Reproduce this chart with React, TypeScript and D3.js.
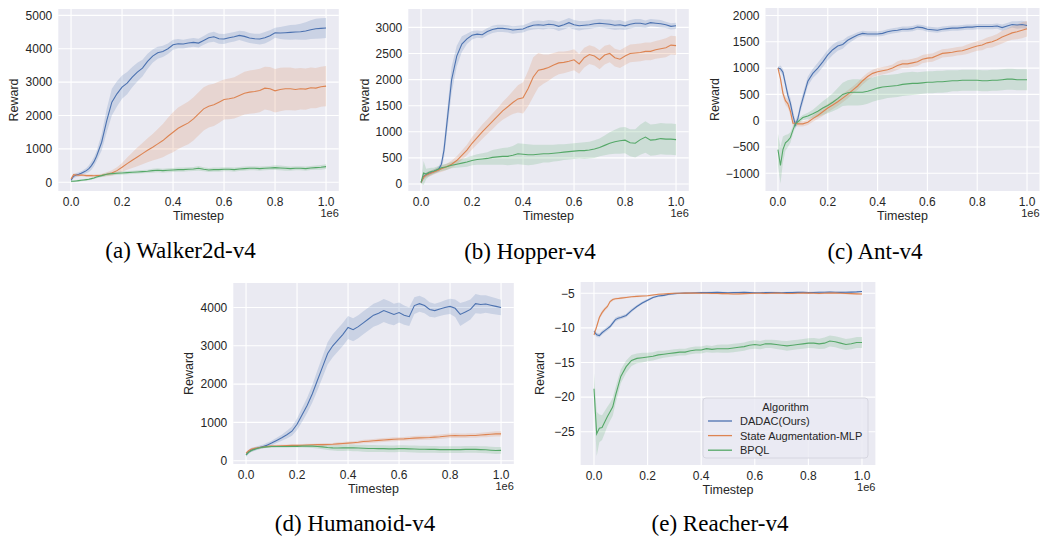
import * as d3 from "d3";

// timesteps (x 1e6): 0..0.1 by 0.01, then 0.12..1.0 by 0.02
const timesteps = [
  0, 0.01, 0.02, 0.03, 0.04, 0.05, 0.06, 0.07, 0.08, 0.09, 0.1,
  0.12, 0.14, 0.16, 0.18, 0.2,
  0.22, 0.24, 0.26, 0.28, 0.3,
  0.32, 0.34, 0.36, 0.38, 0.4,
  0.42, 0.44, 0.46, 0.48, 0.5,
  0.52, 0.54, 0.56, 0.58, 0.6,
  0.62, 0.64, 0.66, 0.68, 0.7,
  0.72, 0.74, 0.76, 0.78, 0.8,
  0.82, 0.84, 0.86, 0.88, 0.9,
  0.92, 0.94, 0.96, 0.98, 1.0,
];

const algorithms = ["DADAC(Ours)", "State Augmentation-MLP", "BPQL"];
const colors = ["#4c72b0", "#dd8452", "#55a868"];

// ---- Walker2d-v4 ----
const walkerDadac = [
  60, 180, 220, 240, 270, 310, 350, 410, 500, 620, 780,
  1200, 1850, 2400, 2650, 2850,
  2970, 3150, 3300, 3420, 3620,
  3780, 3880, 3920, 4000, 4120,
  4150, 4140, 4170, 4190, 4170,
  4250, 4330, 4360, 4300, 4290,
  4330, 4360, 4400, 4370, 4320,
  4300, 4290, 4330, 4390, 4480,
  4470, 4480, 4490, 4500, 4510,
  4530, 4570, 4600, 4610, 4620,
];
const walkerDadacBand = [
  30, 60, 60, 60, 60, 70, 80, 100, 120, 140, 150,
  250, 350, 400, 380, 350,
  330, 300, 280, 250, 230,
  200, 180, 170, 160, 150,
  140, 130, 130, 130, 130,
  130, 140, 150, 150, 150,
  140, 140, 140, 150, 150,
  150, 160, 170, 160, 150,
  180, 200, 220, 220, 240,
  260, 280, 300, 300, 300,
];
const walkerSaMlp = [
  100, 230, 220, 210, 220, 210, 200, 200, 200, 195, 200,
  210, 240, 280, 350, 450,
  560, 660, 760, 860, 960,
  1050, 1150, 1250, 1380, 1500,
  1620, 1700, 1780, 1900, 2050,
  2200, 2280, 2320, 2400, 2480,
  2500, 2530, 2600, 2670, 2700,
  2720, 2750, 2820, 2800, 2740,
  2780, 2800, 2800, 2780, 2800,
  2790, 2830, 2820, 2860, 2880,
];
const walkerSaMlpBand = [
  30, 40, 40, 40, 40, 40, 40, 40, 40, 40, 40,
  50, 60, 80, 100, 130,
  180, 230, 280, 320, 360,
  400, 450, 500, 550, 600,
  620, 630, 640, 650, 650,
  650, 640, 630, 620, 600,
  610, 620, 630, 640, 650,
  650, 650, 640, 650, 650,
  650, 640, 640, 630, 620,
  620, 610, 600, 600, 600,
];
const walkerBpql = [
  30, 30, 40, 50, 60, 70, 80, 90, 110, 130, 160,
  200, 240, 260, 270, 280,
  290, 300, 310, 320, 330,
  350, 360, 350, 360, 370,
  380, 380, 390, 400, 420,
  390, 370, 380, 380, 390,
  390, 380, 400, 410, 420,
  420, 410, 420, 430, 440,
  430, 420, 410, 420, 420,
  410, 430, 440, 450, 470,
];
const walkerBpqlBand = [
  30, 30, 30, 30, 30, 30, 30, 30, 30, 30, 40,
  40, 50, 50, 50, 50,
  50, 50, 50, 50, 50,
  60, 60, 60, 60, 60,
  60, 60, 60, 60, 70,
  60, 60, 60, 60, 60,
  60, 60, 60, 60, 60,
  60, 60, 60, 60, 70,
  70, 70, 60, 60, 60,
  60, 60, 60, 70, 70,
];

// ---- Hopper-v4 ----
const hopperDadac = [
  30, 140, 180, 200, 220, 240, 260, 290, 380, 650, 1100,
  2000, 2450, 2680, 2780, 2850,
  2870, 2860, 2920, 2960, 2980,
  2980, 2970, 2950, 2960, 2970,
  3010, 3040, 3050, 3040, 3060,
  3050, 3020, 3050, 3090, 3050,
  3030, 3040, 3050, 3070, 3080,
  3070, 3060, 3040, 3050, 3030,
  3060, 3080, 3080, 3060, 3090,
  3080, 3070, 3050, 3020, 3030,
];
const hopperDadacBand = [
  20, 40, 40, 40, 40, 40, 40, 50, 80, 150, 200,
  250, 200, 150, 100, 80,
  70, 70, 70, 70, 70,
  70, 70, 70, 70, 70,
  70, 80, 80, 80, 80,
  80, 90, 90, 90, 90,
  90, 80, 80, 80, 80,
  80, 90, 90, 90, 80,
  80, 80, 80, 70, 70,
  70, 70, 60, 60, 60,
];
const hopperSaMlp = [
  30, 130, 170, 190, 210, 230, 250, 270, 290, 310, 330,
  380, 450, 550, 650, 780,
  890, 1000, 1100, 1200, 1300,
  1400, 1480, 1560, 1630, 1650,
  1830, 2050, 2180, 2200, 2230,
  2280, 2320, 2330, 2350, 2380,
  2300, 2420, 2480, 2450, 2380,
  2470, 2500, 2420, 2390, 2450,
  2500, 2510, 2520, 2540, 2540,
  2570, 2590, 2610, 2660, 2650,
];
const hopperSaMlpBand = [
  20, 50, 50, 50, 50, 50, 50, 50, 60, 60, 60,
  70, 80, 90, 100, 120,
  130, 140, 140, 150, 150,
  170, 190, 220, 260, 300,
  340, 380, 330, 280, 250,
  230, 220, 210, 200, 200,
  190, 190, 180, 180, 180,
  180, 170, 170, 170, 170,
  170, 170, 170, 170, 170,
  170, 175, 180, 180, 180,
];
const hopperBpql = [
  30, 210, 190, 220, 240, 250, 270, 290, 310, 320, 330,
  360, 380, 400, 420, 450,
  470, 480, 490, 510, 520,
  530, 530, 550, 580, 570,
  560, 560, 570, 580, 580,
  590, 600, 610, 620, 630,
  640, 640, 650, 670, 700,
  740, 780, 810, 830, 840,
  790, 780, 850, 900, 840,
  850, 870, 860, 860, 850,
];
const hopperBpqlBand = [
  20, 230, 100, 80, 70, 60, 60, 60, 60, 60, 60,
  60, 70, 80, 90, 90,
  100, 110, 120, 140, 150,
  160, 170, 180, 200, 200,
  200, 190, 180, 170, 170,
  160, 160, 150, 150, 150,
  150, 160, 160, 170, 170,
  190, 210, 230, 250, 250,
  260, 270, 290, 300, 300,
  300, 300, 300, 300, 300,
];

// ---- Ant-v4 ----
const antDadac = [
  1000, 990, 920, 700, 480, 330, 100, -80, 40, 250, 420,
  750, 900, 1000, 1120, 1250,
  1350, 1420, 1450, 1530, 1580,
  1630, 1660, 1650, 1650, 1650,
  1660, 1690, 1710, 1720, 1740,
  1740, 1750, 1780, 1770, 1740,
  1730, 1720, 1740, 1750, 1760,
  1760, 1770, 1780, 1780, 1790,
  1790, 1790, 1790, 1800, 1770,
  1800, 1830, 1820, 1830, 1810,
];
const antDadacBand = [
  30, 60, 70, 80, 90, 100, 100, 80, 80, 90, 100,
  90, 90, 100, 100, 100,
  100, 90, 80, 70, 60,
  50, 50, 50, 50, 50,
  50, 50, 50, 50, 50,
  50, 50, 50, 50, 50,
  50, 50, 50, 50, 50,
  50, 50, 50, 50, 50,
  50, 50, 50, 50, 60,
  60, 60, 70, 70, 70,
];
const antSaMlp = [
  1000, 800, 520, 380, 320, 180, -50, -50, -60, -60, -60,
  -30, 40, 100, 170, 240,
  300, 360, 430, 500, 580,
  660, 760, 840, 900, 930,
  950, 970, 1000, 1050, 1080,
  1080, 1100, 1120, 1170, 1190,
  1200, 1240, 1280, 1290, 1300,
  1320, 1330, 1360, 1390, 1420,
  1440, 1480, 1500, 1540, 1590,
  1630, 1670, 1690, 1720, 1750,
];
const antSaMlpBand = [
  30, 60, 80, 80, 80, 80, 60, 50, 50, 50, 50,
  50, 60, 70, 80, 80,
  80, 80, 80, 80, 70,
  70, 70, 70, 70, 70,
  70, 70, 70, 80, 80,
  80, 80, 80, 80, 80,
  80, 80, 80, 80, 80,
  80, 80, 90, 90, 90,
  100, 100, 110, 110, 120,
  120, 130, 140, 150, 150,
];
const antBpql = [
  -550, -850, -550, -420, -380, -320, -180, -60, -20, 20, 60,
  90, 130, 180, 240, 290,
  350, 420, 500, 530, 540,
  540, 540, 560, 590, 620,
  640, 650, 660, 670, 690,
  700, 710, 710, 720, 730,
  730, 740, 740, 750, 760,
  760, 770, 770, 770, 770,
  760, 760, 770, 770, 780,
  790, 790, 780, 780, 780,
];
const antBpqlBand = [
  300, 350, 250, 150, 120, 100, 80, 60, 50, 50, 50,
  60, 80, 110, 130, 150,
  170, 200, 220, 240, 250,
  250, 240, 240, 230, 230,
  230, 220, 220, 220, 220,
  220, 220, 210, 210, 210,
  210, 210, 210, 210, 200,
  200, 200, 200, 200, 200,
  200, 200, 200, 200, 200,
  200, 200, 200, 200, 200,
];

// ---- Humanoid-v4 ----
const humanoidDadac = [
  150, 230, 280, 300, 320, 340, 360, 380, 400, 430, 460,
  530, 600, 680, 770, 950,
  1200, 1450, 1750, 2100, 2450,
  2800, 3000, 3150, 3300, 3480,
  3420, 3500, 3600, 3700, 3800,
  3850, 3920, 3870, 3820, 3870,
  3800, 3760, 4050, 4100, 4050,
  3950, 3920, 3960, 4000, 4030,
  3980, 3820, 3880, 3950, 4100,
  4080, 4090, 4060, 4030, 4000,
];
const humanoidDadacBand = [
  50, 50, 50, 50, 50, 50, 50, 50, 60, 60, 60,
  70, 80, 100, 120, 150,
  180, 200, 230, 260, 280,
  290, 300, 300, 300, 300,
  300, 300, 300, 300, 300,
  300, 300, 300, 280, 260,
  250, 240, 220, 210, 200,
  190, 180, 180, 190, 200,
  230, 300, 280, 260, 250,
  240, 230, 220, 210, 200,
];
const humanoidSaMlp = [
  200, 260, 300, 320, 330, 340, 350, 360, 370, 375, 380,
  385, 390, 395, 400, 400,
  405, 410, 415, 420, 420,
  425, 430, 440, 450, 460,
  470, 480, 500, 510, 520,
  530, 540, 550, 560, 565,
  570, 580, 590, 595, 600,
  605, 615, 625, 640, 650,
  655, 650, 650, 660, 660,
  670, 680, 690, 700, 700,
];
const humanoidSaMlpBand = [
  30, 30, 30, 30, 30, 30, 30, 30, 30, 30, 30,
  30, 30, 30, 30, 30,
  30, 30, 30, 30, 35,
  35, 35, 40, 40, 40,
  40, 40, 45, 45, 50,
  50, 50, 50, 50, 50,
  50, 50, 55, 55, 55,
  55, 55, 60, 60, 60,
  60, 60, 60, 60, 60,
  60, 65, 65, 70, 70,
];
const humanoidBpql = [
  150, 220, 260, 290, 310, 330, 345, 355, 360, 365, 370,
  370, 370, 370, 375, 375,
  380, 380, 380, 370, 360,
  345, 335, 330, 335, 340,
  335, 330, 325, 320, 320,
  315, 315, 310, 310, 315,
  315, 310, 305, 300, 300,
  295, 295, 290, 290, 290,
  290, 290, 295, 295, 295,
  290, 285, 275, 265, 270,
];
const humanoidBpqlBand = [
  30, 30, 30, 30, 30, 30, 30, 30, 30, 30, 30,
  30, 30, 30, 30, 30,
  35, 40, 45, 50, 60,
  65, 70, 75, 80, 80,
  85, 85, 90, 90, 90,
  90, 90, 90, 90, 90,
  90, 90, 90, 90, 90,
  90, 90, 90, 90, 90,
  90, 90, 90, 90, 90,
  90, 90, 90, 90, 90,
];

// ---- Reacher-v4 ----
const reacherDadac = [
  -10.5, -11.0, -11.1, -10.7, -10.4, -10.1, -9.8, -9.3, -8.8, -8.6, -8.5,
  -8.2, -7.5, -6.9, -6.4, -6.0,
  -5.6, -5.4, -5.3, -5.15, -5.05,
  -5.0, -4.97, -4.95, -4.93, -4.9,
  -4.9, -4.88, -4.87, -4.9, -4.92,
  -4.9, -4.88, -4.87, -4.9, -4.92,
  -4.93, -4.9, -4.88, -4.9, -4.92,
  -4.9, -4.88, -4.85, -4.87, -4.9,
  -4.88, -4.86, -4.85, -4.83, -4.85,
  -4.87, -4.85, -4.83, -4.8, -4.75,
];
const reacherDadacBand = [
  0.3, 0.3, 0.3, 0.3, 0.3, 0.3, 0.3, 0.3, 0.3, 0.3, 0.25,
  0.25, 0.25, 0.2, 0.2, 0.2,
  0.15, 0.15, 0.15, 0.12, 0.12,
  0.12, 0.12, 0.12, 0.12, 0.12,
  0.12, 0.12, 0.12, 0.12, 0.12,
  0.12, 0.12, 0.12, 0.12, 0.12,
  0.12, 0.12, 0.12, 0.12, 0.12,
  0.12, 0.12, 0.12, 0.12, 0.12,
  0.12, 0.12, 0.12, 0.12, 0.12,
  0.12, 0.12, 0.12, 0.12, 0.12,
];
const reacherSaMlp = [
  -11.0, -9.8, -8.5, -7.8, -7.3, -6.9, -6.2, -5.9, -5.8, -5.75, -5.7,
  -5.6, -5.5, -5.45, -5.4, -5.35,
  -5.25, -5.15, -5.1, -5.05, -5.0,
  -5.0, -4.98, -4.97, -4.98, -5.0,
  -5.0, -5.02, -5.03, -5.05, -5.05,
  -5.1, -5.08, -5.05, -5.03, -5.0,
  -5.0, -5.02, -5.0, -4.98, -5.0,
  -5.02, -5.03, -5.0, -4.98, -4.97,
  -5.0, -5.02, -5.0, -4.98, -4.97,
  -5.0, -5.02, -5.05, -5.08, -5.1,
];
const reacherSaMlpBand = [
  0.3, 0.3, 0.3, 0.3, 0.25, 0.25, 0.2, 0.2, 0.15, 0.15, 0.15,
  0.12, 0.12, 0.12, 0.12, 0.12,
  0.12, 0.12, 0.12, 0.12, 0.12,
  0.12, 0.12, 0.12, 0.12, 0.12,
  0.12, 0.12, 0.12, 0.12, 0.12,
  0.12, 0.12, 0.12, 0.12, 0.12,
  0.12, 0.12, 0.12, 0.12, 0.12,
  0.12, 0.12, 0.12, 0.12, 0.12,
  0.12, 0.12, 0.12, 0.12, 0.12,
  0.12, 0.12, 0.12, 0.12, 0.12,
];
const reacherBpql = [
  -18.8, -25.3, -24.5, -24.4, -23.6, -22.8, -22.1, -21.4, -19.8, -18.4, -17.0,
  -15.6, -14.7, -14.4, -14.3, -14.2,
  -14.1, -13.9, -13.8, -13.7, -13.6,
  -13.5, -13.5, -13.3, -13.2, -13.2,
  -13.0, -13.1, -13.0, -13.0, -13.0,
  -12.9, -12.8, -12.7, -12.5, -12.4,
  -12.5, -12.3, -12.3, -12.4, -12.5,
  -12.6, -12.5, -12.4, -12.3, -12.2,
  -12.2, -12.3, -12.2, -11.9, -12.0,
  -12.2, -12.4, -12.3, -12.1, -12.1,
];
const reacherBpqlBand = [
  2.3, 3.2, 2.0, 1.8, 1.6, 1.4, 1.3, 1.3, 1.2, 1.1, 1.0,
  0.9, 0.8, 0.7, 0.7, 0.6,
  0.6, 0.6, 0.5, 0.5, 0.5,
  0.5, 0.5, 0.5, 0.5, 0.5,
  0.5, 0.5, 0.55, 0.6, 0.6,
  0.6, 0.6, 0.6, 0.6, 0.6,
  0.6, 0.6, 0.6, 0.65, 0.65,
  0.7, 0.7, 0.7, 0.7, 0.7,
  0.75, 0.75, 0.8, 0.8, 0.8,
  0.8, 0.8, 0.8, 0.8, 0.8,
];

const xTicks = [0, 0.2, 0.4, 0.6, 0.8, 1.0];
const walkerTicks = [0, 1000, 2000, 3000, 4000, 5000];
const hopperTicks = [0, 500, 1000, 1500, 2000, 2500, 3000];
const antTicks = [-1000, -500, 0, 500, 1000, 1500, 2000];
const humanoidTicks = [0, 1000, 2000, 3000, 4000];
const reacherTicks = [-25, -20, -15, -10, -5];

const SANS = "'Liberation Sans', Arial, sans-serif";
const SERIF = "'Liberation Serif', 'Times New Roman', serif";
const TXT = "#262626";

type Curve = { mean: number[]; band: number[] };

const Panel = ({ id, box, yDomain, yTicks, curves, yLabelX, caption, capX, capY, legend }: any) => {
  const x = d3.scaleLinear().domain([-0.05, 1.05]).range([box.left, box.right]);
  const y = d3.scaleLinear().domain(yDomain).range([box.bottom, box.top]);
  const fmtX = d3.format(".1f");
  const fmtY = d3.format("d");

  const line = d3
    .line<number>()
    .x((d, i) => x(timesteps[i]))
    .y((d) => y(d));

  return (
    <g>
      <defs>
        <clipPath id={`clip-${id}`}>
          <rect x={box.left} y={box.top} width={box.right - box.left} height={box.bottom - box.top} />
        </clipPath>
      </defs>
      <rect x={box.left} y={box.top} width={box.right - box.left} height={box.bottom - box.top} fill="#eaeaf2" />
      {xTicks.map((t) => (
        <line key={`gx${t}`} x1={x(t)} x2={x(t)} y1={box.top} y2={box.bottom} stroke="#fff" strokeWidth={1.1} />
      ))}
      {yTicks.map((t: number) => (
        <line key={`gy${t}`} x1={box.left} x2={box.right} y1={y(t)} y2={y(t)} stroke="#fff" strokeWidth={1.1} />
      ))}
      <g clipPath={`url(#clip-${id})`}>
        {curves.map((c: Curve, k: number) => {
          const area = d3
            .area<number>()
            .x((d, i) => x(timesteps[i]))
            .y0((d, i) => y(d - c.band[i]))
            .y1((d, i) => y(d + c.band[i]));
          return <path key={`a${k}`} d={area(c.mean) || ""} fill={colors[k]} fillOpacity={0.2} />;
        })}
        {curves.map((c: Curve, k: number) => (
          <path key={`l${k}`} d={line(c.mean) || ""} fill="none" stroke={colors[k]} strokeWidth={1.1} />
        ))}
      </g>
      {xTicks.map((t) => (
        <text key={`tx${t}`} x={x(t)} y={box.bottom + 14.5} textAnchor="middle" fontFamily={SANS} fontSize={12} fill={TXT}>
          {fmtX(t)}
        </text>
      ))}
      {yTicks.map((t: number) => (
        <text key={`ty${t}`} x={box.left - 6} y={y(t) + 4.3} textAnchor="end" fontFamily={SANS} fontSize={12} fill={TXT}>
          {fmtY(t)}
        </text>
      ))}
      <text x={(box.left + box.right) / 2} y={box.bottom + 28.5} textAnchor="middle" fontFamily={SANS} fontSize={12.5} fill={TXT}>
        Timestep
      </text>
      <text x={box.right} y={box.bottom + 26} textAnchor="end" fontFamily={SANS} fontSize={11} fill={TXT}>
        1e6
      </text>
      <text
        transform={`translate(${yLabelX},${(box.top + box.bottom) / 2}) rotate(-90)`}
        textAnchor="middle"
        fontFamily={SANS}
        fontSize={12.5}
        fill={TXT}
      >
        Reward
      </text>
      {legend && (
        <g fontFamily={SANS} fontSize={11} fill={TXT}>
          <rect x={legend.x} y={legend.y} width={legend.w} height={legend.h} rx={3} fill="#eaeaf2" fillOpacity={0.8} stroke="#d6d6e0" />
          <text x={legend.x + legend.w / 2} y={legend.y + 13} textAnchor="middle">
            Algorithm
          </text>
          {algorithms.map((a, k) => (
            <g key={a}>
              <line
                x1={legend.x + 5}
                x2={legend.x + 29}
                y1={legend.y + 23 + k * 14.6}
                y2={legend.y + 23 + k * 14.6}
                stroke={colors[k]}
                strokeWidth={1.3}
              />
              <text x={legend.x + 37} y={legend.y + 27 + k * 14.6}>
                {a}
              </text>
            </g>
          ))}
        </g>
      )}
      <text x={capX} y={capY} textAnchor="middle" fontFamily={SERIF} fontSize={23} fill="#000">
        {caption}
      </text>
    </g>
  );
};

export default function App() {
  return (
    <svg width={1040} height={538} style={{ position: "absolute", left: 0, top: 0, background: "#fff" }}>
      <Panel
        id="walker"
        box={{ left: 58.3, right: 338.8, top: 9, bottom: 191 }}
        yDomain={[-260, 5190]}
        yTicks={walkerTicks}
        curves={[
          { mean: walkerDadac, band: walkerDadacBand },
          { mean: walkerSaMlp, band: walkerSaMlpBand },
          { mean: walkerBpql, band: walkerBpqlBand },
        ]}
        yLabelX={18}
        caption="(a) Walker2d-v4"
        capX={180.5}
        capY={258}
      />
      <Panel
        id="hopper"
        box={{ left: 408.3, right: 688.8, top: 9, bottom: 191 }}
        yDomain={[-134, 3352]}
        yTicks={hopperTicks}
        curves={[
          { mean: hopperDadac, band: hopperDadacBand },
          { mean: hopperSaMlp, band: hopperSaMlpBand },
          { mean: hopperBpql, band: hopperBpqlBand },
        ]}
        yLabelX={369}
        caption="(b) Hopper-v4"
        capX={530}
        capY={259}
      />
      <Panel
        id="ant"
        box={{ left: 765.5, right: 1039.5, top: 8, bottom: 191 }}
        yDomain={[-1337, 2143]}
        yTicks={antTicks}
        curves={[
          { mean: antDadac, band: antDadacBand },
          { mean: antSaMlp, band: antSaMlpBand },
          { mean: antBpql, band: antBpqlBand },
        ]}
        yLabelX={719}
        caption="(c) Ant-v4"
        capX={875}
        capY={259}
      />
      <Panel
        id="humanoid"
        box={{ left: 233.3, right: 513.8, top: 283, bottom: 464 }}
        yDomain={[-86, 4640]}
        yTicks={humanoidTicks}
        curves={[
          { mean: humanoidDadac, band: humanoidDadacBand },
          { mean: humanoidSaMlp, band: humanoidSaMlpBand },
          { mean: humanoidBpql, band: humanoidBpqlBand },
        ]}
        yLabelX={193}
        caption="(d) Humanoid-v4"
        capX={355}
        capY={531}
      />
      <Panel
        id="reacher"
        box={{ left: 580.6, right: 875.4, top: 282, bottom: 465 }}
        yDomain={[-29.8, -3.37]}
        yTicks={reacherTicks}
        curves={[
          { mean: reacherDadac, band: reacherDadacBand },
          { mean: reacherSaMlp, band: reacherSaMlpBand },
          { mean: reacherBpql, band: reacherBpqlBand },
        ]}
        yLabelX={544}
        caption="(e) Reacher-v4"
        capX={720}
        capY={531}
        legend={{ x: 703, y: 398, w: 165, h: 60 }}
      />
    </svg>
  );
}
